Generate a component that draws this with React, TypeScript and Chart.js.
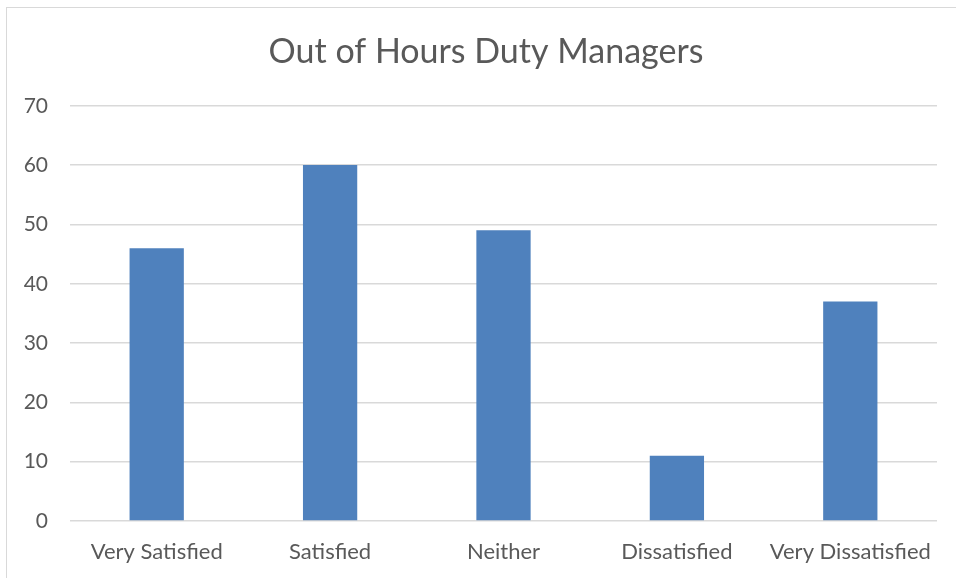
import React, { useEffect, useRef } from "react";
import { Chart, registerables } from "chart.js";

Chart.register(...registerables);

const TITLE = "Out of Hours Duty Managers";
const categories = ["Very Satisfied", "Satisfied", "Neither", "Dissatisfied", "Very Dissatisfied"];
const values = [46, 60, 49, 11, 37];
const yTicks = [0, 10, 20, 30, 40, 50, 60, 70];

const FONT = "Lato, 'Open Sans', sans-serif";

export default function App() {
  const ref = useRef<HTMLCanvasElement | null>(null);
  useEffect(() => {
    if (!ref.current) return;
    const chart = new Chart(ref.current, {
      type: "bar",
      data: {
        labels: categories,
        datasets: [
          {
            data: values,
            backgroundColor: "#4F81BD",
            borderWidth: 0,
            barPercentage: 0.313,
            categoryPercentage: 1,
          },
        ],
      },
      options: {
        animation: false,
        responsive: false,
        maintainAspectRatio: false,
        layout: { padding: { top: 32, right: 0, bottom: 0, left: 16 } },
        plugins: {
          legend: { display: false },
          tooltip: { enabled: false },
          title: {
            display: true,
            text: TITLE,
            color: "#595959",
            font: { family: FONT, size: 34, weight: "normal", lineHeight: 1.2 },
            padding: { top: 0, bottom: 33 },
          },
        },
        scales: {
          x: {
            grid: { display: false, drawTicks: false },
            border: { display: false },
            ticks: {
              color: "#595959",
              font: { family: FONT, size: 22 },
              padding: 18,
              maxRotation: 0,
            },
            afterFit: (s: any) => {
              s.height = 57;
            },
          },
          y: {
            min: 0,
            max: 70,
            afterBuildTicks: (s: any) => {
              s.ticks = yTicks.map((v) => ({ value: v }));
            },
            grid: { color: "#D9D9D9", lineWidth: 1.5, drawTicks: false },
            border: { display: false },
            ticks: {
              color: "#595959",
              font: { family: FONT, size: 21 },
              padding: 22,
            },
            afterFit: (s: any) => {
              s.width = 54;
            },
          },
          yRight: {
            position: "right",
            display: true,
            grid: { display: false, drawTicks: false },
            border: { display: false },
            ticks: { display: false },
            afterFit: (s: any) => {
              s.width = 19;
            },
          },
        },
      },
    });
    return () => chart.destroy();
  }, []);
  return (
    <div style={{ position: "absolute", left: 0, top: 0, width: 956, height: 578, background: "#fff", overflow: "hidden" }}>
      <div
        style={{
          position: "absolute",
          left: 6,
          top: 7,
          width: 1000,
          height: 700,
          border: "1.5px solid #D9D9D9",
          boxSizing: "border-box",
        }}
      />
      <canvas ref={ref} width={956} height={578} style={{ position: "absolute", left: 0, top: 0 }} />
    </div>
  );
}
